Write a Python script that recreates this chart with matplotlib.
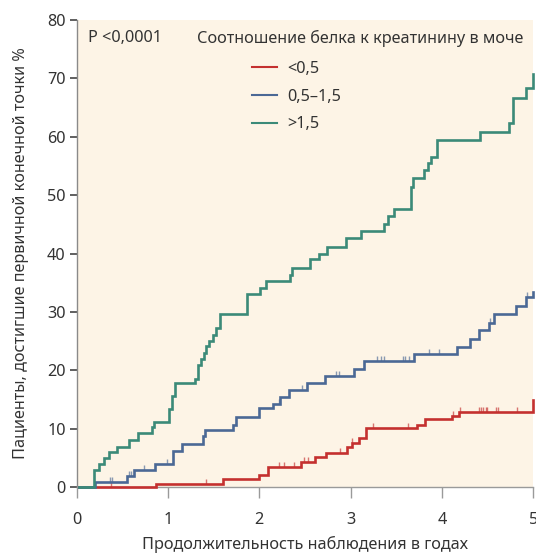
import numpy as np
import matplotlib
matplotlib.use("Agg")
import matplotlib.pyplot as plt
from matplotlib.lines import Line2D
from matplotlib.path import Path

plt.rcParams['font.family'] = ['Noto Sans', 'DejaVu Sans']

# ---- data ----
series_labels = ['<0,5', '0,5\u20131,5', '>1,5']

red_t = [0.03, 0.87, 1.60, 2.00, 2.09, 2.46, 2.61, 2.73, 2.96, 3.01, 3.09, 3.17, 3.73, 3.81, 4.11, 4.19, 4.995]
red_v = [0.0, 0.5, 1.3, 2.0, 3.5, 4.3, 5.2, 5.9, 6.9, 7.6, 8.4, 10.1, 10.7, 11.6, 12.2, 12.9, 14.9]
red_cens = [0.38, 1.42, 2.22, 2.27, 2.38, 2.49, 2.53, 2.88, 3.02, 3.25, 3.63, 4.12, 4.20,
            4.41, 4.43, 4.45, 4.48, 4.49, 4.59, 4.61, 4.82]

blue_t = [0.03, 0.20, 0.55, 0.63, 0.86, 1.05, 1.15, 1.38, 1.41, 1.71, 1.74, 2.00, 2.15, 2.23, 2.33,
          2.52, 2.72, 3.04, 3.15, 3.69, 4.16, 4.31, 4.40, 4.51, 4.57, 4.81, 4.92, 4.995]
blue_v = [0.0, 0.9, 1.8, 2.9, 4.0, 6.2, 7.4, 8.7, 9.7, 10.6, 12.0, 13.5, 14.3, 15.4, 16.7,
          17.8, 19.0, 20.2, 21.5, 22.7, 24.0, 25.4, 26.9, 28.1, 29.7, 31.0, 32.6, 33.4]
blue_cens = [0.36, 0.39, 0.57, 0.59, 0.74, 0.99, 2.21, 2.47, 2.84, 2.87, 3.29, 3.33, 3.37,
             3.57, 3.60, 3.64, 3.86, 3.97, 4.53, 4.93]

green_t = [0.03, 0.19, 0.24, 0.30, 0.35, 0.44, 0.57, 0.67, 0.82, 0.85, 1.01, 1.04, 1.08, 1.29, 1.33,
           1.36, 1.39, 1.42, 1.45, 1.49, 1.53, 1.57, 1.87, 2.01, 2.07, 2.34, 2.36, 2.55, 2.65,
           2.74, 2.95, 3.11, 3.36, 3.41, 3.47, 3.66, 3.68, 3.80, 3.85, 3.88, 3.94, 4.42, 4.73,
           4.78, 4.92, 4.995]
green_v = [0.0, 2.9, 3.9, 4.9, 6.0, 6.9, 8.0, 9.2, 10.3, 11.2, 13.3, 15.6, 17.8, 18.5, 20.9,
           21.9, 22.9, 24.1, 25.0, 26.0, 27.3, 29.6, 33.0, 34.1, 35.3, 36.3, 37.6, 39.0, 40.0,
           41.1, 42.7, 43.9, 45.0, 46.4, 47.6, 51.4, 52.9, 54.3, 55.5, 56.6, 59.4, 60.8, 62.4,
           66.7, 68.3, 70.7]
green_cens = []

x_ticks = [0, 1, 2, 3, 4, 5]
y_ticks = [0, 10, 20, 30, 40, 50, 60, 70, 80]

colors = ['#c4302f', '#4b6895', '#3b8a78']

# ---- figure ----
W, H = 536, 553
FS = 11.7
fig = plt.figure(figsize=(W / 100, H / 100), dpi=100)
ax = fig.add_axes([76.7 / W, 1 - 487 / H, (533.3 - 76.7) / W, (487 - 20) / H])
ax.set_facecolor('#fdf4e6')

tick_path = Path([(0, 0), (0, 1)])

for t, v, cens, c in [(red_t, red_v, red_cens, colors[0]),
                      (blue_t, blue_v, blue_cens, colors[1]),
                      (green_t, green_v, green_cens, colors[2])]:
    ax.step(t, v, where='post', color=c, lw=1.9, solid_joinstyle='miter', clip_on=False, zorder=3)
    if cens:
        ct = np.array(cens)
        idx = np.searchsorted(np.array(t), ct, side='right') - 1
        cv = np.array(v)[idx]
        ax.plot(ct, cv, ls='none', marker=tick_path, markersize=7, markeredgewidth=1.0,
                color=c, alpha=0.65, zorder=2)

ax.set_xlim(0, 5)
ax.set_ylim(0, 80)
ax.set_xticks(x_ticks)
ax.set_yticks(y_ticks)
ax.set_xticklabels([str(x) for x in x_ticks])
ax.set_yticklabels([str(y) for y in y_ticks])

for s in ['top', 'right']:
    ax.spines[s].set_visible(False)
ax.spines['left'].set_color('#8a8a8a')
ax.spines['bottom'].set_color('#9a9a9a')
ax.spines['left'].set_linewidth(1.0)
ax.spines['bottom'].set_linewidth(1.0)

ax.tick_params(axis='y', direction='out', length=5, width=1.2, color='#444444',
               labelsize=FS, labelcolor='#333333', pad=3)
ax.tick_params(axis='x', direction='out', length=8, width=1.0, color='#9a9a9a',
               labelsize=FS, labelcolor='#333333', pad=10)

ax.set_xlabel('Продолжительность наблюдения в годах', fontsize=FS, color='#333333', labelpad=6)
ax.set_ylabel('Пациенты, достигшие первичной конечной точки %', fontsize=FS, color='#333333', labelpad=13)

fig.text(88 / W, 1 - 38 / H, 'P <0,0001', fontsize=FS, color='#333333', va='center', ha='left')
fig.text(197 / W, 1 - 38 / H, 'Соотношение белка к креатинину в моче', fontsize=FS,
         color='#333333', va='center', ha='left')

handles = [Line2D([], [], color=c, lw=1.5) for c in colors]
leg = fig.legend(handles, series_labels, loc='upper left', bbox_to_anchor=(252 / W, 1 - 61 / H),
                 frameon=False, fontsize=FS, handlelength=1.55, handletextpad=0.6,
                 labelspacing=0.72, borderpad=0, borderaxespad=0)
for txt in leg.get_texts():
    txt.set_color('#333333')

fig.savefig('out.png', dpi=100)
